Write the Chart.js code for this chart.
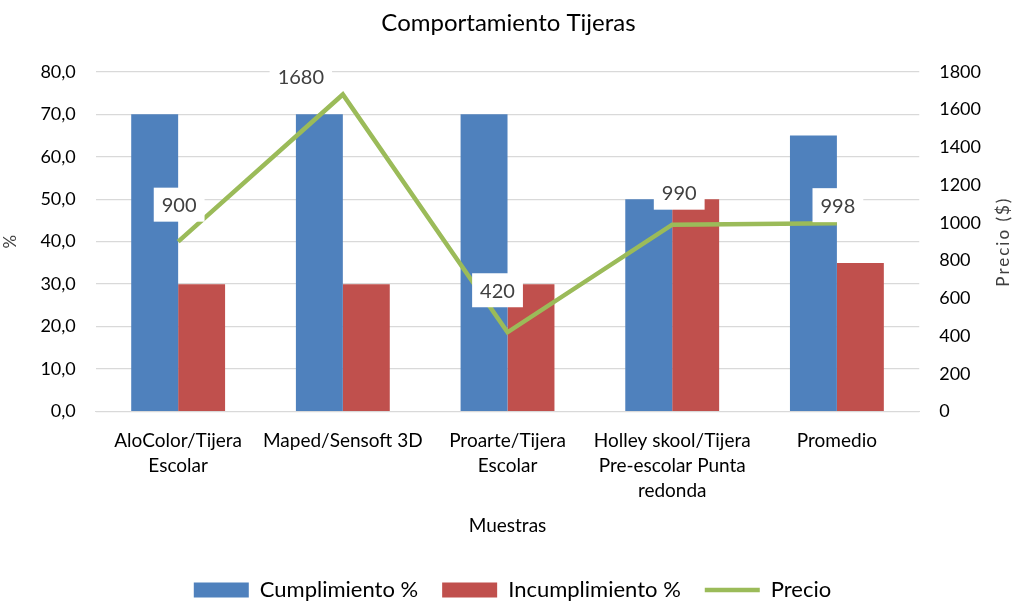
<!DOCTYPE html>
<html>
<head>
<meta charset="utf-8">
<script src="https://cdn.jsdelivr.net/npm/chart.js@4/dist/chart.umd.min.js"></script>
<style>
  html, body { margin: 0; padding: 0; background: #fff; }
  #wrap { width: 1013px; height: 603px; }
</style>
</head>
<body>
<div id="wrap"><canvas id="tijerasChart" width="1013" height="603"></canvas></div>
<script>
// datos
const categorias = [
    ['AloColor/Tijera', 'Escolar'],
    ['Maped/Sensoft 3D'],
    ['Proarte/Tijera', 'Escolar'],
    ['Holley skool/Tijera', 'Pre-escolar Punta', 'redonda'],
    ['Promedio']
];
const cumplimiento = [70, 70, 70, 50, 65];
const incumplimiento = [30, 30, 30, 50, 35];
const precio = [900, 1680, 420, 990, 998];
const ticksPorcentaje = [0, 10, 20, 30, 40, 50, 60, 70, 80];
const ticksPrecio = [0, 200, 400, 600, 800, 1000, 1200, 1400, 1600, 1800];

const fuente = 'Lato, "Liberation Sans", sans-serif';

// etiquetas de precio (caja blanca), desplazadas como en el original
const etiquetasPrecio = {
    id: 'etiquetasPrecio',
    afterDatasetsDraw(chart, args, opts) {
        const ctx = chart.ctx;
        const meta = chart.getDatasetMeta(2);
        ctx.save();
        ctx.font = '20px ' + fuente;
        ctx.textAlign = 'center';
        ctx.textBaseline = 'middle';
        meta.data.forEach((pt, i) => {
            const off = opts.offsets[i];
            const x = pt.x + off[0], y = pt.y + off[1];
            const txt = String(precio[i]);
            const w = ctx.measureText(txt).width + 16;
            ctx.fillStyle = '#fff';
            ctx.fillRect(x - w / 2, y - 17, w, 34);
            ctx.fillStyle = '#404040';
            ctx.fillText(txt, x, y + 1);
        });
        ctx.restore();
    }
};

// titulo del eje derecho, de abajo hacia arriba
const tituloDerecho = {
    id: 'tituloDerecho',
    afterDraw(chart) {
        const ctx = chart.ctx;
        const y = chart.scales.y1;
        ctx.save();
        ctx.translate(1004, (y.top + y.bottom) / 2);
        ctx.rotate(-Math.PI / 2);
        ctx.font = '17px ' + fuente;
        ctx.letterSpacing = '2px';
        ctx.fillStyle = '#404040';
        ctx.textAlign = 'center';
        ctx.textBaseline = 'middle';
        ctx.fillText('Precio ($)', 0, 0);
        ctx.restore();
    }
};

// en el original titulo y leyenda estan un poco a la derecha
const correrCajas = {
    id: 'correrCajas',
    afterLayout(chart) {
        chart.titleBlock.left += 8;
        chart.titleBlock.right += 8;
        chart.legend.left += 12;
        chart.legend.right += 12;
    }
};

new Chart(document.getElementById('tijerasChart'), {
    type: 'bar',
    data: {
        labels: categorias,
        datasets: [{
            label: 'Cumplimiento %',
            data: cumplimiento,
            backgroundColor: '#4f81bd',
            borderWidth: 0,
            yAxisID: 'y',
            order: 1,
            categoryPercentage: 0.57,
            barPercentage: 1.0
        }, {
            label: 'Incumplimiento %',
            data: incumplimiento,
            backgroundColor: '#c0504d',
            borderWidth: 0,
            yAxisID: 'y',
            order: 1,
            categoryPercentage: 0.57,
            barPercentage: 1.0
        }, {
            type: 'line',
            label: 'Precio',
            data: precio,
            borderColor: '#9bbb59',
            backgroundColor: '#9bbb59',
            borderWidth: 4.5,
            pointRadius: 0,
            tension: 0,
            yAxisID: 'y1',
            order: 0
        }]
    },
    options: {
        responsive: false,
        animation: false,
        layout: { padding: { left: 0, right: 12, top: 4, bottom: -8 } },
        plugins: {
            title: {
                display: true,
                text: 'Comportamiento Tijeras',
                color: '#000',
                font: { family: fuente, size: 24, weight: 'normal' },
                padding: { top: 5, bottom: 34 }
            },
            legend: {
                position: 'bottom',
                labels: {
                    usePointStyle: true,
                    sort: (a, b) => a.datasetIndex - b.datasetIndex,
                    generateLabels(chart) {
                        const items = Chart.defaults.plugins.legend.labels.generateLabels(chart);
                        items.forEach(it => {
                            it.pointStyle = it.datasetIndex === 2 ? 'line' : 'rect';
                            it.lineWidth = it.datasetIndex === 2 ? 4.5 : 0;
                            it.fontColor = '#000';
                        });
                        return items;
                    },
                    boxHeight: 15,
                    boxWidth: 55,
                    pointStyleWidth: 55,
                    padding: 24,
                    color: '#000',
                    font: { family: fuente, size: 22 }
                }
            },
            tooltip: { enabled: false },
            etiquetasPrecio: {
                offsets: [[1, -37], [-42, -18], [-10, -42], [7, -32], [1, -18]]
            }
        },
        scales: {
            x: {
                grid: { display: false },
                border: { display: true, color: '#d9d9d9' },
                ticks: {
                    color: '#000',
                    padding: 9,
                    font: { family: fuente, size: 19, lineHeight: 1.31 },
                    maxRotation: 0,
                    autoSkip: false
                },
                title: {
                    display: true,
                    text: 'Muestras',
                    color: '#000',
                    font: { family: fuente, size: 19 },
                    padding: { top: 2, bottom: 18 }
                }
            },
            y: {
                position: 'left',
                min: 0,
                max: 80,
                afterBuildTicks(axis) { axis.ticks = ticksPorcentaje.map(v => ({ value: v })); },
                grid: { color: '#d9d9d9', drawTicks: false, lineWidth: 1.3 },
                border: { display: false },
                ticks: {
                    color: '#000',
                    padding: 20,
                    font: { family: fuente, size: 18 },
                    callback: v => v.toFixed(1).replace('.', ',')
                },
                title: {
                    display: true,
                    text: '%',
                    color: '#404040',
                    font: { family: fuente, size: 17 },
                    padding: { top: 0, bottom: 0 }
                }
            },
            y1: {
                position: 'right',
                min: 0,
                max: 1800,
                afterBuildTicks(axis) { axis.ticks = ticksPrecio.map(v => ({ value: v })); },
                grid: { display: false, drawTicks: false },
                border: { display: false },
                ticks: {
                    color: '#000',
                    padding: 20,
                    font: { family: fuente, size: 18 },
                    callback: v => String(v)
                }
            }
        }
    },
    plugins: [etiquetasPrecio, tituloDerecho, correrCajas]
});
</script>
</body>
</html>
